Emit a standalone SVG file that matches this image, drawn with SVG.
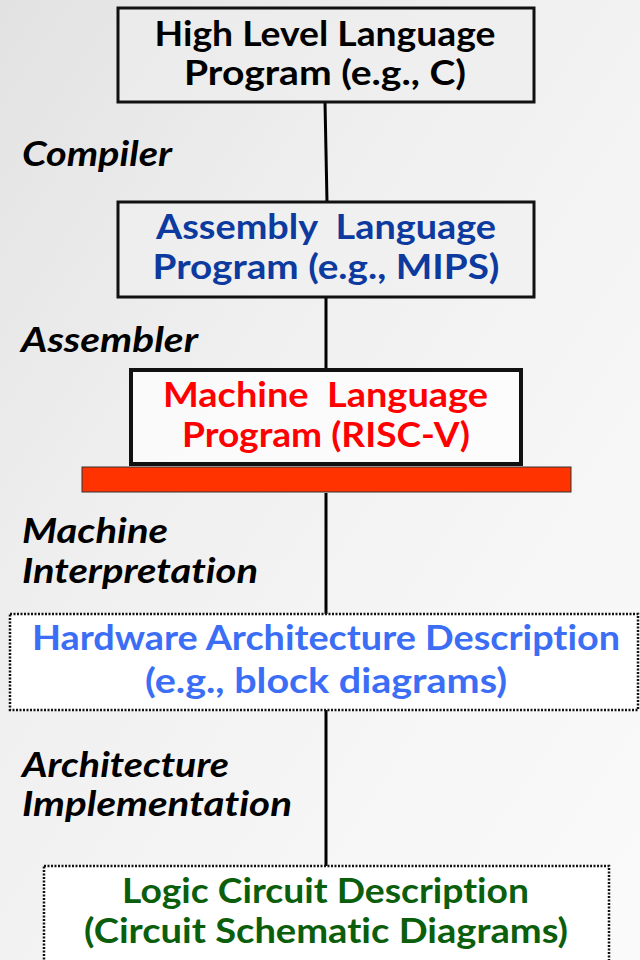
<svg xmlns="http://www.w3.org/2000/svg" width="640" height="960" viewBox="0 0 640 960">
<defs>
<linearGradient id="bg" x1="0" y1="0" x2="1" y2="1">
<stop offset="0" stop-color="#e2e2e2"/>
<stop offset="0.35" stop-color="#efefef"/>
<stop offset="0.7" stop-color="#f6f6f6"/>
<stop offset="1" stop-color="#fafafa"/>
</linearGradient>
<style>
.t{font-family:Lato,"Open Sans","Liberation Sans",sans-serif;font-weight:bold;font-size:35px;text-anchor:middle;font-variant-ligatures:none;font-feature-settings:"liga" 0,"clig" 0}
.l{font-family:Lato,"Open Sans","Liberation Sans",sans-serif;font-weight:bold;font-style:italic;font-size:35px;fill:#000;font-variant-ligatures:none;font-feature-settings:"liga" 0,"clig" 0}
.box{stroke:#111;stroke-width:3}
.dbox{fill:#fff;stroke:#111;stroke-width:2.5;stroke-dasharray:2 1.5}
.conn{stroke:#000;stroke-width:3;fill:none}
</style>
</defs>
<rect width="640" height="960" fill="url(#bg)"/>
<g id="connectors">
<line class="conn" x1="325" y1="102" x2="327" y2="202"/>
<line class="conn" x1="326" y1="297" x2="326" y2="369"/>
<line class="conn" x1="326" y1="493" x2="326" y2="614"/>
<line class="conn" x1="326" y1="710" x2="326" y2="866"/>
</g>
<g id="labels">
<text class="l" x="22" y="166" textLength="150" lengthAdjust="spacingAndGlyphs">Compiler</text>
<text class="l" x="21" y="352" textLength="177" lengthAdjust="spacingAndGlyphs">Assembler</text>
<text class="l" x="22" y="543" textLength="146" lengthAdjust="spacingAndGlyphs">Machine</text>
<text class="l" x="22" y="583" textLength="236" lengthAdjust="spacingAndGlyphs">Interpretation</text>
<text class="l" x="22" y="777" textLength="207" lengthAdjust="spacingAndGlyphs">Architecture</text>
<text class="l" x="22" y="816" textLength="270" lengthAdjust="spacingAndGlyphs">Implementation</text>
</g>
<g id="hll">
<rect class="box" x="118" y="8" width="416" height="94" fill="#eeeeee" fill-opacity="0.6"/>
<text class="t" x="325" y="46" fill="#000" textLength="341" lengthAdjust="spacingAndGlyphs">High Level Language</text>
<text class="t" x="325" y="85" fill="#000" textLength="282" lengthAdjust="spacingAndGlyphs">Program (e.g., C)</text>
</g>
<g id="asm">
<rect class="box" x="118" y="202" width="416" height="95" fill="#f0f0f0" fill-opacity="0.6"/>
<text class="t" x="326" y="239" fill="#0d3a9e" textLength="340" lengthAdjust="spacingAndGlyphs" xml:space="preserve">Assembly  Language</text>
<text class="t" x="326" y="279" fill="#0d3a9e" textLength="347" lengthAdjust="spacingAndGlyphs">Program (e.g., MIPS)</text>
</g>
<g id="ml">
<rect x="131" y="370" width="390" height="94" fill="#ffffff" fill-opacity="0.7" stroke="#111" stroke-width="4"/>
<text class="t" x="325.5" y="407" fill="#ff0000" textLength="325" lengthAdjust="spacingAndGlyphs" xml:space="preserve">Machine  Language</text>
<text class="t" x="326" y="447" fill="#ff0000" textLength="288" lengthAdjust="spacingAndGlyphs">Program (RISC-V)</text>
</g>
<g id="isa-bar">
<rect x="82" y="467" width="489" height="25" fill="#ff3300" stroke="#333" stroke-width="1"/>
</g>
<g id="hw">
<rect class="dbox" x="10" y="614" width="628" height="96"/>
<text class="t" x="326" y="650" fill="#3b6ef5" textLength="588" lengthAdjust="spacingAndGlyphs">Hardware Architecture Description</text>
<text class="t" x="326" y="693" fill="#3b6ef5" textLength="362" lengthAdjust="spacingAndGlyphs">(e.g., block diagrams)</text>
</g>
<g id="logic">
<rect class="dbox" x="44" y="866" width="565" height="110"/>
<text class="t" x="325.5" y="903" fill="#0b5e0b" textLength="407" lengthAdjust="spacingAndGlyphs">Logic Circuit Description</text>
<text class="t" x="326" y="943" fill="#0b5e0b" textLength="484" lengthAdjust="spacingAndGlyphs">(Circuit Schematic Diagrams)</text>
</g>
</svg>
